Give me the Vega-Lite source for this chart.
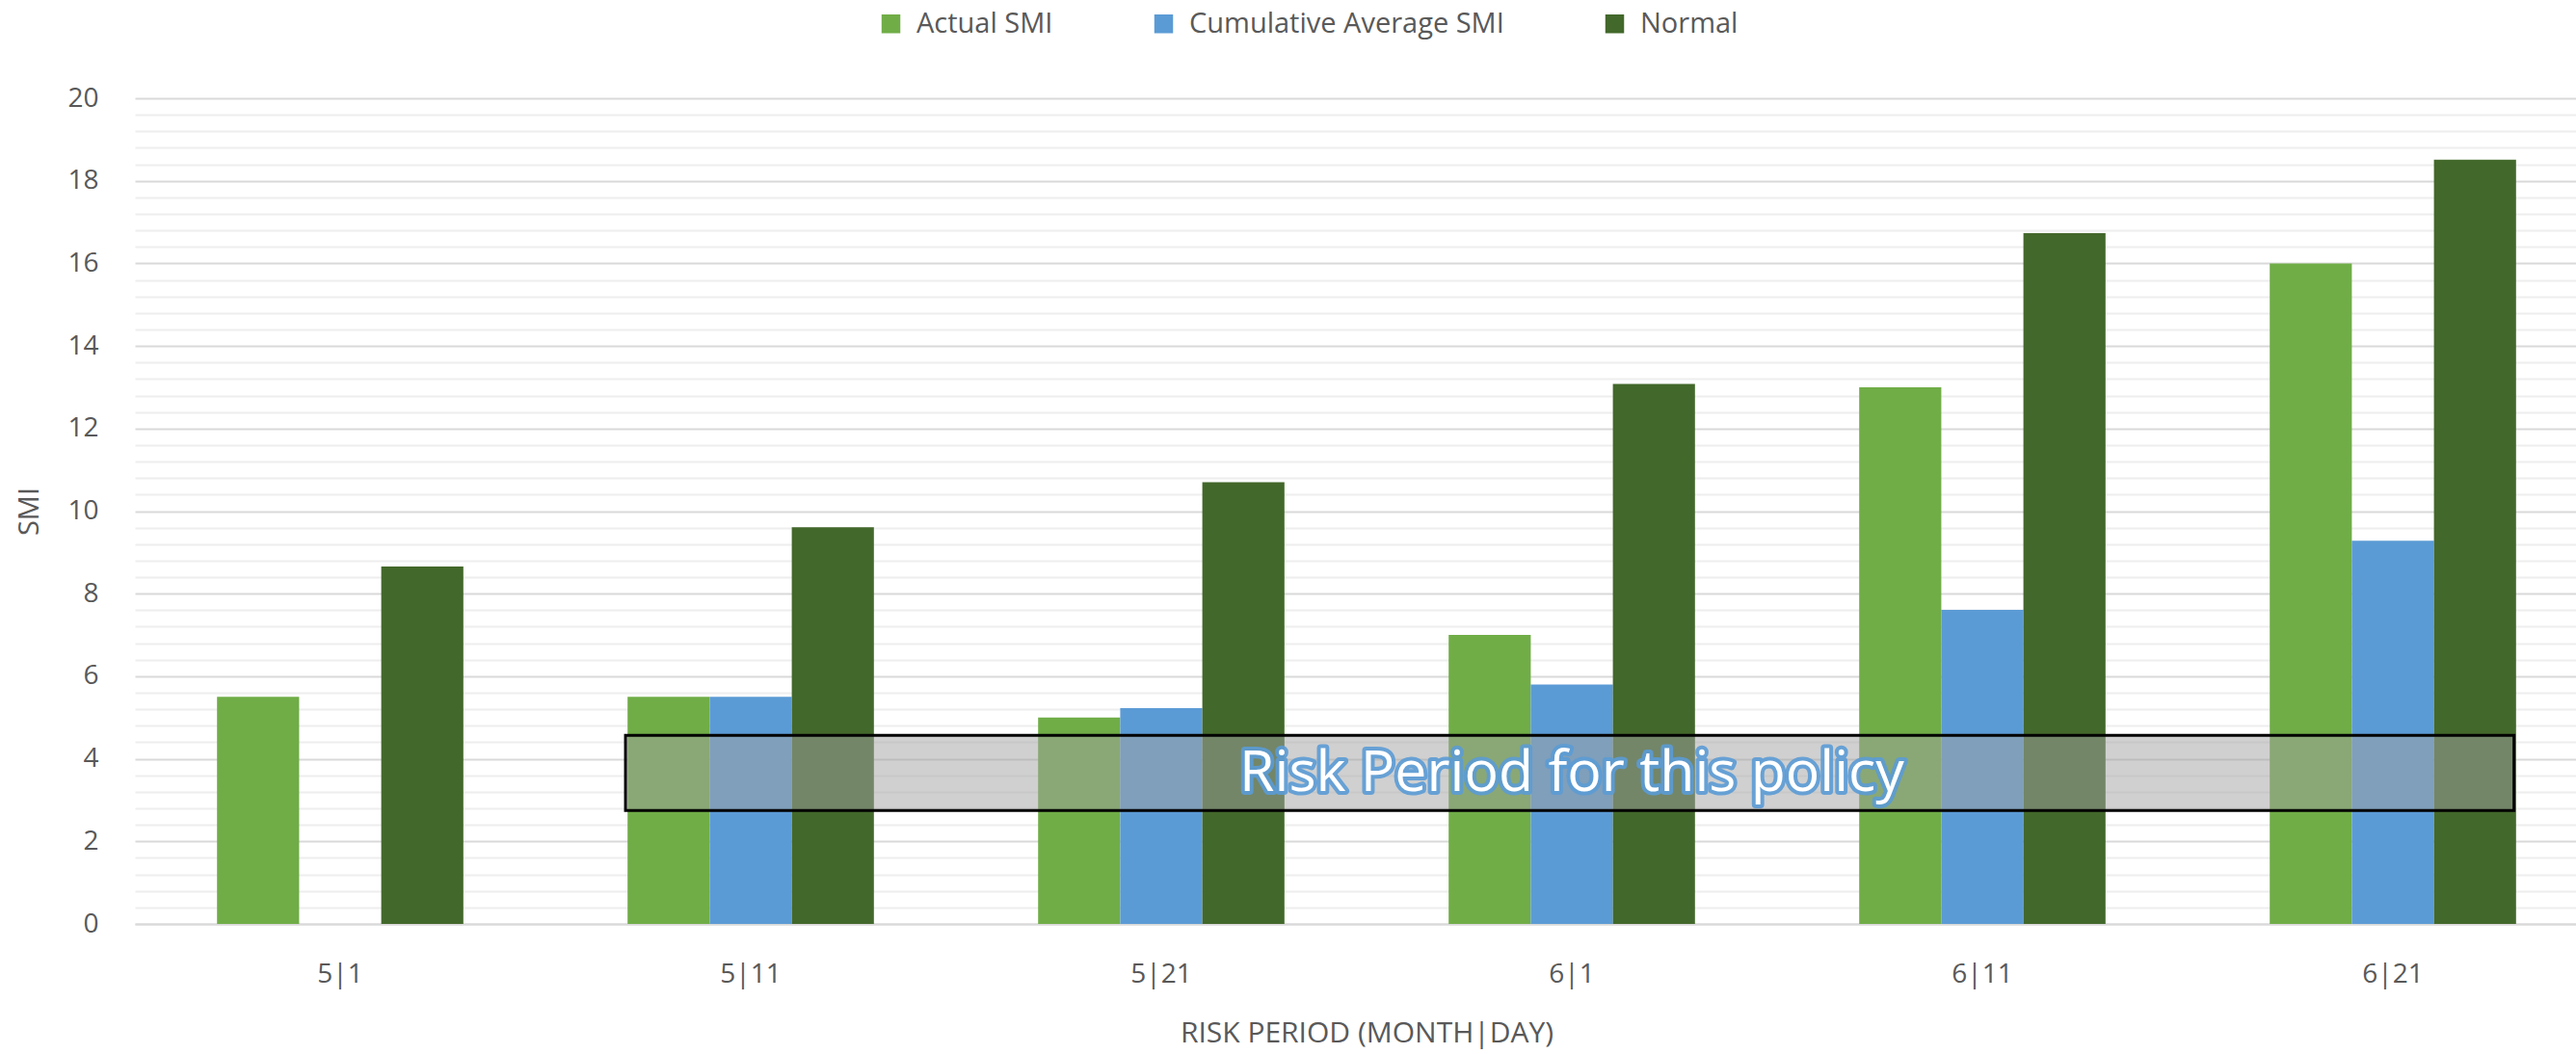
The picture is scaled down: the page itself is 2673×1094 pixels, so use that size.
{
  "$schema": "https://vega.github.io/schema/vega-lite/v6.json",
  "autosize": "none",
  "padding": {"left": 140, "top": 102, "right": 0, "bottom": 135},
  "width": 2533,
  "height": 857,
  "background": "white",
  "config": {
    "font": "Open Sans",
    "view": {"stroke": null},
    "axis": {"labelColor": "#595959", "titleColor": "#595959", "labelFont": "Open Sans", "titleFont": "Open Sans", "titleFontWeight": "normal"}
  },
  "datasets": {
    "smi": [
      {"period": "5|1", "series": "Actual SMI", "value": 5.5},
      {"period": "5|1", "series": "Normal", "value": 8.66},
      {"period": "5|11", "series": "Actual SMI", "value": 5.5},
      {"period": "5|11", "series": "Cumulative Average SMI", "value": 5.5},
      {"period": "5|11", "series": "Normal", "value": 9.61},
      {"period": "5|21", "series": "Actual SMI", "value": 5.0},
      {"period": "5|21", "series": "Cumulative Average SMI", "value": 5.23},
      {"period": "5|21", "series": "Normal", "value": 10.7},
      {"period": "6|1", "series": "Actual SMI", "value": 7.0},
      {"period": "6|1", "series": "Cumulative Average SMI", "value": 5.8},
      {"period": "6|1", "series": "Normal", "value": 13.08},
      {"period": "6|11", "series": "Actual SMI", "value": 13.0},
      {"period": "6|11", "series": "Cumulative Average SMI", "value": 7.61},
      {"period": "6|11", "series": "Normal", "value": 16.73},
      {"period": "6|21", "series": "Actual SMI", "value": 16.0},
      {"period": "6|21", "series": "Cumulative Average SMI", "value": 9.28},
      {"period": "6|21", "series": "Normal", "value": 18.51}
    ],
    "note": [
      {"label": "Risk Period for this policy", "start": 1.195, "end": 5.795, "low": 2.75, "high": 4.57, "mid": 3.5, "level": 3.63}
    ]
  },
  "layer": [
    {
      "data": {"name": "smi"},
      "mark": {"type": "bar"},
      "encoding": {
        "x": {
          "field": "period", "type": "nominal", "sort": ["5|1", "5|11", "5|21", "6|1", "6|11", "6|21"],
          "scale": {"range": [0, 2556], "paddingInner": 0.4, "paddingOuter": 0.2},
          "axis": {"title": "RISK PERIOD (MONTH|DAY)", "labelAngle": 0, "labelFontSize": 28, "titleFontSize": 30, "labelPadding": 38, "titlePadding": 32, "ticks": false, "domainColor": "#d9d9d9", "domainWidth": 2, "labelOverlap": false}
        },
        "xOffset": {"field": "series", "type": "nominal", "scale": {"domain": ["Actual SMI", "Cumulative Average SMI", "Normal"], "paddingInner": 0, "paddingOuter": 0}},
        "y": {
          "field": "value", "type": "quantitative",
          "scale": {"domain": [0, 20], "nice": false},
          "axis": {
            "title": "SMI", "titleFontSize": 29, "labelFontSize": 28, "labelPadding": 38, "titlePadding": 24,
            "values": [0,0.4,0.8,1.2,1.6,2,2.4,2.8,3.2,3.6,4,4.4,4.8,5.2,5.6,6,6.4,6.8,7.2,7.6,8,8.4,8.8,9.2,9.6,10,10.4,10.8,11.2,11.6,12,12.4,12.8,13.2,13.6,14,14.4,14.8,15.2,15.6,16,16.4,16.8,17.2,17.6,18,18.4,18.8,19.2,19.6,20],
            "labelExpr": "datum.value % 2 === 0 ? datum.value : ''",
            "labelOverlap": false,
            "ticks": false, "domain": false,
            "gridWidth": 2,
            "gridColor": {"condition": {"test": "datum.value % 2 === 0", "value": "#d9d9d9"}, "value": "#eeeeee"}
          }
        },
        "color": {
          "field": "series", "type": "nominal",
          "scale": {"domain": ["Actual SMI", "Cumulative Average SMI", "Normal"], "range": ["#70ad47", "#5b9bd5", "#43682b"]},
          "legend": {"title": null, "orient": "none", "direction": "horizontal", "legendX": 770, "legendY": -92, "symbolType": "square", "symbolSize": 380, "symbolStrokeWidth": 0, "labelFontSize": 29, "labelColor": "#595959", "labelFont": "Open Sans", "labelLimit": 600, "columnPadding": 100, "labelOffset": 12}
        }
      }
    },
    {
      "data": {"name": "note"},
      "layer": [
        {
          "mark": {"type": "rect", "fill": "#a3a3a3", "fillOpacity": 0.51, "stroke": "#000000", "strokeWidth": 3},
          "encoding": {
            "x": {"field": "start", "type": "quantitative", "scale": {"domain": [0, 6], "range": [0, 2556], "nice": false, "zero": false}, "axis": null},
            "x2": {"field": "end"},
            "y": {"field": "low", "type": "quantitative", "axis": null},
            "y2": {"field": "high"}
          }
        },
        {
          "mark": {"type": "text", "fontSize": 59, "font": "Open Sans", "fontWeight": 500, "baseline": "middle", "align": "center", "fill": "#5b9bd5", "stroke": "#5b9bd5", "strokeWidth": 8, "strokeJoin": "round", "strokeOpacity": 0.9},
          "encoding": {
            "x": {"field": "mid", "type": "quantitative"},
            "y": {"field": "level", "type": "quantitative", "axis": null},
            "text": {"field": "label"}
          }
        },
        {
          "mark": {"type": "text", "fontSize": 59, "font": "Open Sans", "fontWeight": 500, "baseline": "middle", "align": "center", "fill": "#ffffff"},
          "encoding": {
            "x": {"field": "mid", "type": "quantitative"},
            "y": {"field": "level", "type": "quantitative", "axis": null},
            "text": {"field": "label"}
          }
        }
      ]
    }
  ],
  "resolve": {"scale": {"x": "independent"}, "axis": {"y": "independent"}}
}
